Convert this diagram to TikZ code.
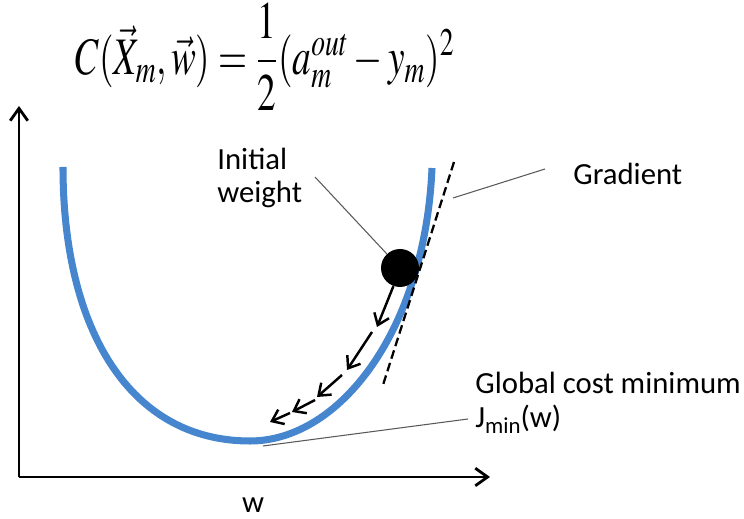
\documentclass[tikz,border=0pt]{standalone}
\usepackage{amsmath,amssymb}
\usepackage{mathptmx}
\usepackage{fontspec}
\setmainfont{Carlito}
\usetikzlibrary{arrows.meta}
\definecolor{curveblue}{RGB}{70,134,206}

\begin{document}
\begin{tikzpicture}[x=0.02cm,y=-0.02cm,
    lbl/.style={font=\fontsize{17.5}{19}\selectfont, inner sep=0pt},
    leader/.style={draw=black!65, line width=0.6pt},
    gradstep/.style={-{Straight Barb[length=6pt,width=9pt]}, line width=1.4pt},
    axis/.style={-{Straight Barb[length=7pt,width=10pt]}, line width=1.6pt}]
    \useasboundingbox (0,0) rectangle (744,519);
    % cost function
    \node[inner sep=0pt] (cost) at (265,57) {\scalebox{0.85}[1.2]{\fontsize{25}{30}\selectfont $C(\vec{X}_m,\vec{w}) = \dfrac{1}{2}(a_m^{out} - y_m)^2$}};
    % axes
    \coordinate (origin) at (19,477);
    \coordinate (ytop) at (19,106);
    \coordinate (xend) at (490,477);
    \draw[axis] (origin) -- (ytop);
    \draw[axis] (origin) -- (xend);
    \node[lbl, anchor=base] (wlabel) at (253,513) {w};
    % cost curve
    \draw[curveblue, line width=4pt] (63,167) .. controls (63,330) and (130,441) .. (250,441)
        .. controls (340,441) and (425,330) .. (432,168);
    % tangent
    \coordinate (g1) at (454,162);
    \coordinate (g2) at (383,385);
    \draw[dashed, line width=1.3pt, dash pattern=on 5pt off 2.5pt] (g1) -- (g2);
    % initial weight
    \node[circle, fill=black, minimum size=0.76cm, inner sep=0pt] (ball) at (400,268) {};
    \coordinate (s1) at (377,327);
    \coordinate (s2) at (372,332);
    \coordinate (s3) at (347,370);
    \coordinate (s4) at (342,375);
    \coordinate (s5) at (317,397);
    \coordinate (s6) at (315,400);
    \coordinate (s7) at (292,412);
    \coordinate (s8) at (290,413);
    \coordinate (s9) at (270,422);
    \draw[gradstep] (ball.250) -- (s1);
    \foreach \a/\b in {s2/s3, s4/s5, s6/s7, s8/s9}
        \draw[gradstep] (\a) -- (\b);
    % labels
    \node[lbl, anchor=base west] (initw1) at (217,170) {Initial};
    \node[lbl, anchor=base west] (initw2) at (217,203) {weight};
    \coordinate (iwlead) at (315,177);
    \draw[leader] (iwlead) -- (ball);
    \node[lbl, anchor=base west] (grad) at (573,185) {Gradient};
    \coordinate (gradlead) at (545,169);
    \coordinate (gradend) at (453,198);
    \draw[leader] (gradlead) -- (gradend);
    \node[lbl, anchor=base west] (glob) at (475,394) {Global cost minimum};
    \node[lbl, anchor=base west] (jmin) at (475,428) {J\raisebox{-0.35ex}{\fontsize{13}{13}\selectfont min}(w)};
    \coordinate (jlead) at (468,419);
    \coordinate (jend) at (263,446);
    \draw[leader] (jlead) -- (jend);
\end{tikzpicture}
\end{document}
